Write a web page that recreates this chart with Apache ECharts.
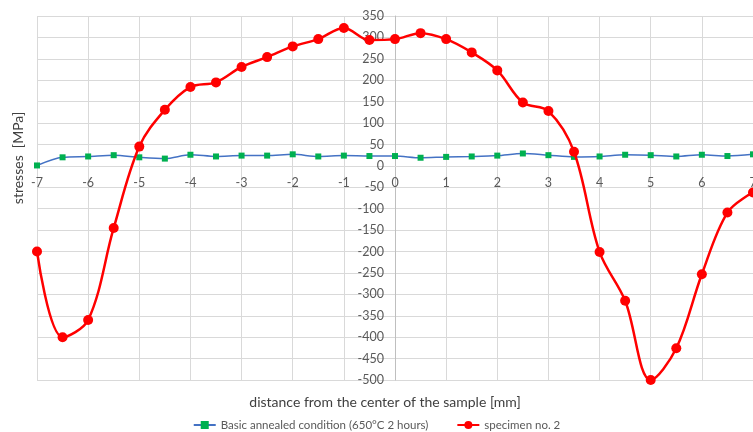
<!DOCTYPE html>
<html>
<head>
<meta charset="utf-8">
<script src="https://cdn.jsdelivr.net/npm/echarts@6/dist/echarts.min.js"></script>
<style>
html,body{margin:0;padding:0;background:#fff;}
#c{width:753px;height:432px;}
</style>
</head>
<body>
<div id="c"></div>
<script>
const distances = [-7,-6.5,-6,-5.5,-5,-4.5,-4,-3.5,-3,-2.5,-2,-1.5,-1,-0.5,0,0.5,1,1.5,2,2.5,3,3.5,4,4.5,5,5.5,6,6.5,7];
const annealed = [1,20,22,25,20,17,26,22,24,24,27,22,24,23,23,19,21,22,24,29,25,21,22,26,25,22,26,23,27];
const specimen2 = [-200,-400,-360,-145,45,131,184,195,231,254,279,296,322,294,296,310,296,265,223,148,128,33,-201,-315,-500,-426,-253,-109,-62];
const seriesNames = ['Basic annealed condition (650°C 2 hours)', 'specimen no. 2'];
const xTitle = 'distance from the center of the sample [mm]';
const yTitle = 'stresses  [MPa]';

const FONT = 'Lato';
const W = 753, H = 432;
const G = {left:37, right:0, top:16, bottom:52};
const xMin=-7, xMax=7, yMin=-500, yMax=350;
const plotW = W-G.left-G.right, plotH = H-G.top-G.bottom;
// shift axes to cross at zero
const yAxisOffset = -((0-xMin)/(xMax-xMin))*plotW;
const xAxisOffset = -((0-yMin)/(yMax-yMin))*plotH;

const chart = echarts.init(document.getElementById('c'), null, {renderer:'canvas'});
chart.setOption({
  animation:false,
  backgroundColor:'#ffffff',
  textStyle:{fontFamily:FONT},
  grid:{left:G.left,right:G.right,top:G.top,bottom:G.bottom,containLabel:false,outerBoundsMode:'none'},
  xAxis:{
    type:'value',min:xMin,max:xMax,interval:1,position:'bottom',offset:xAxisOffset,
    axisLine:{show:true,onZero:false,lineStyle:{color:'#D9D9D9',width:1}},
    axisTick:{show:false},
    axisLabel:{color:'#595959',fontSize:12.5,fontFamily:FONT,margin:11,hideOverlap:false,showMinLabel:true,showMaxLabel:true},
    splitLine:{show:true,lineStyle:{color:'#D9D9D9',width:1}}
  },
  yAxis:{
    type:'value',min:yMin,max:yMax,interval:50,position:'left',offset:yAxisOffset,
    axisLine:{show:true,onZero:false,lineStyle:{color:'#BFBFBF',width:1}},
    axisTick:{show:false},
    axisLabel:{color:'#595959',fontSize:12.5,fontFamily:FONT,margin:11,hideOverlap:false,showMinLabel:true,showMaxLabel:true},
    splitLine:{show:true,lineStyle:{color:'#D9D9D9',width:1}}
  },
  legend:{
    left:'center',top:414,itemWidth:22,itemHeight:10,itemGap:28,
    textStyle:{color:'#595959',fontSize:11.5,fontFamily:FONT},
    data:seriesNames
  },
  graphic:[
    {type:'text',x:385,y:402,style:{text:xTitle,fill:'#404040',font:'14px '+FONT,textAlign:'center',textVerticalAlign:'middle'}},
    {type:'text',x:18,y:158,rotation:Math.PI/2,style:{text:yTitle,fill:'#404040',font:'14px '+FONT,textAlign:'center',textVerticalAlign:'middle'}}
  ],
  series:[
    {
      name:seriesNames[0],type:'line',smooth:0.3,
      data:distances.map((d,i)=>[d,annealed[i]]),
      symbol:'rect',symbolSize:6,
      lineStyle:{color:'#4472C4',width:1.5},
      itemStyle:{color:'#00B050'},
      z:2
    },
    {
      name:seriesNames[1],type:'line',smooth:0.35,
      data:distances.map((d,i)=>[d,specimen2[i]]),
      symbol:'circle',symbolSize:10,
      lineStyle:{color:'#FF0000',width:2.5},
      itemStyle:{color:'#FF0000'},
      z:3
    }
  ]
});
</script>
</body>
</html>
